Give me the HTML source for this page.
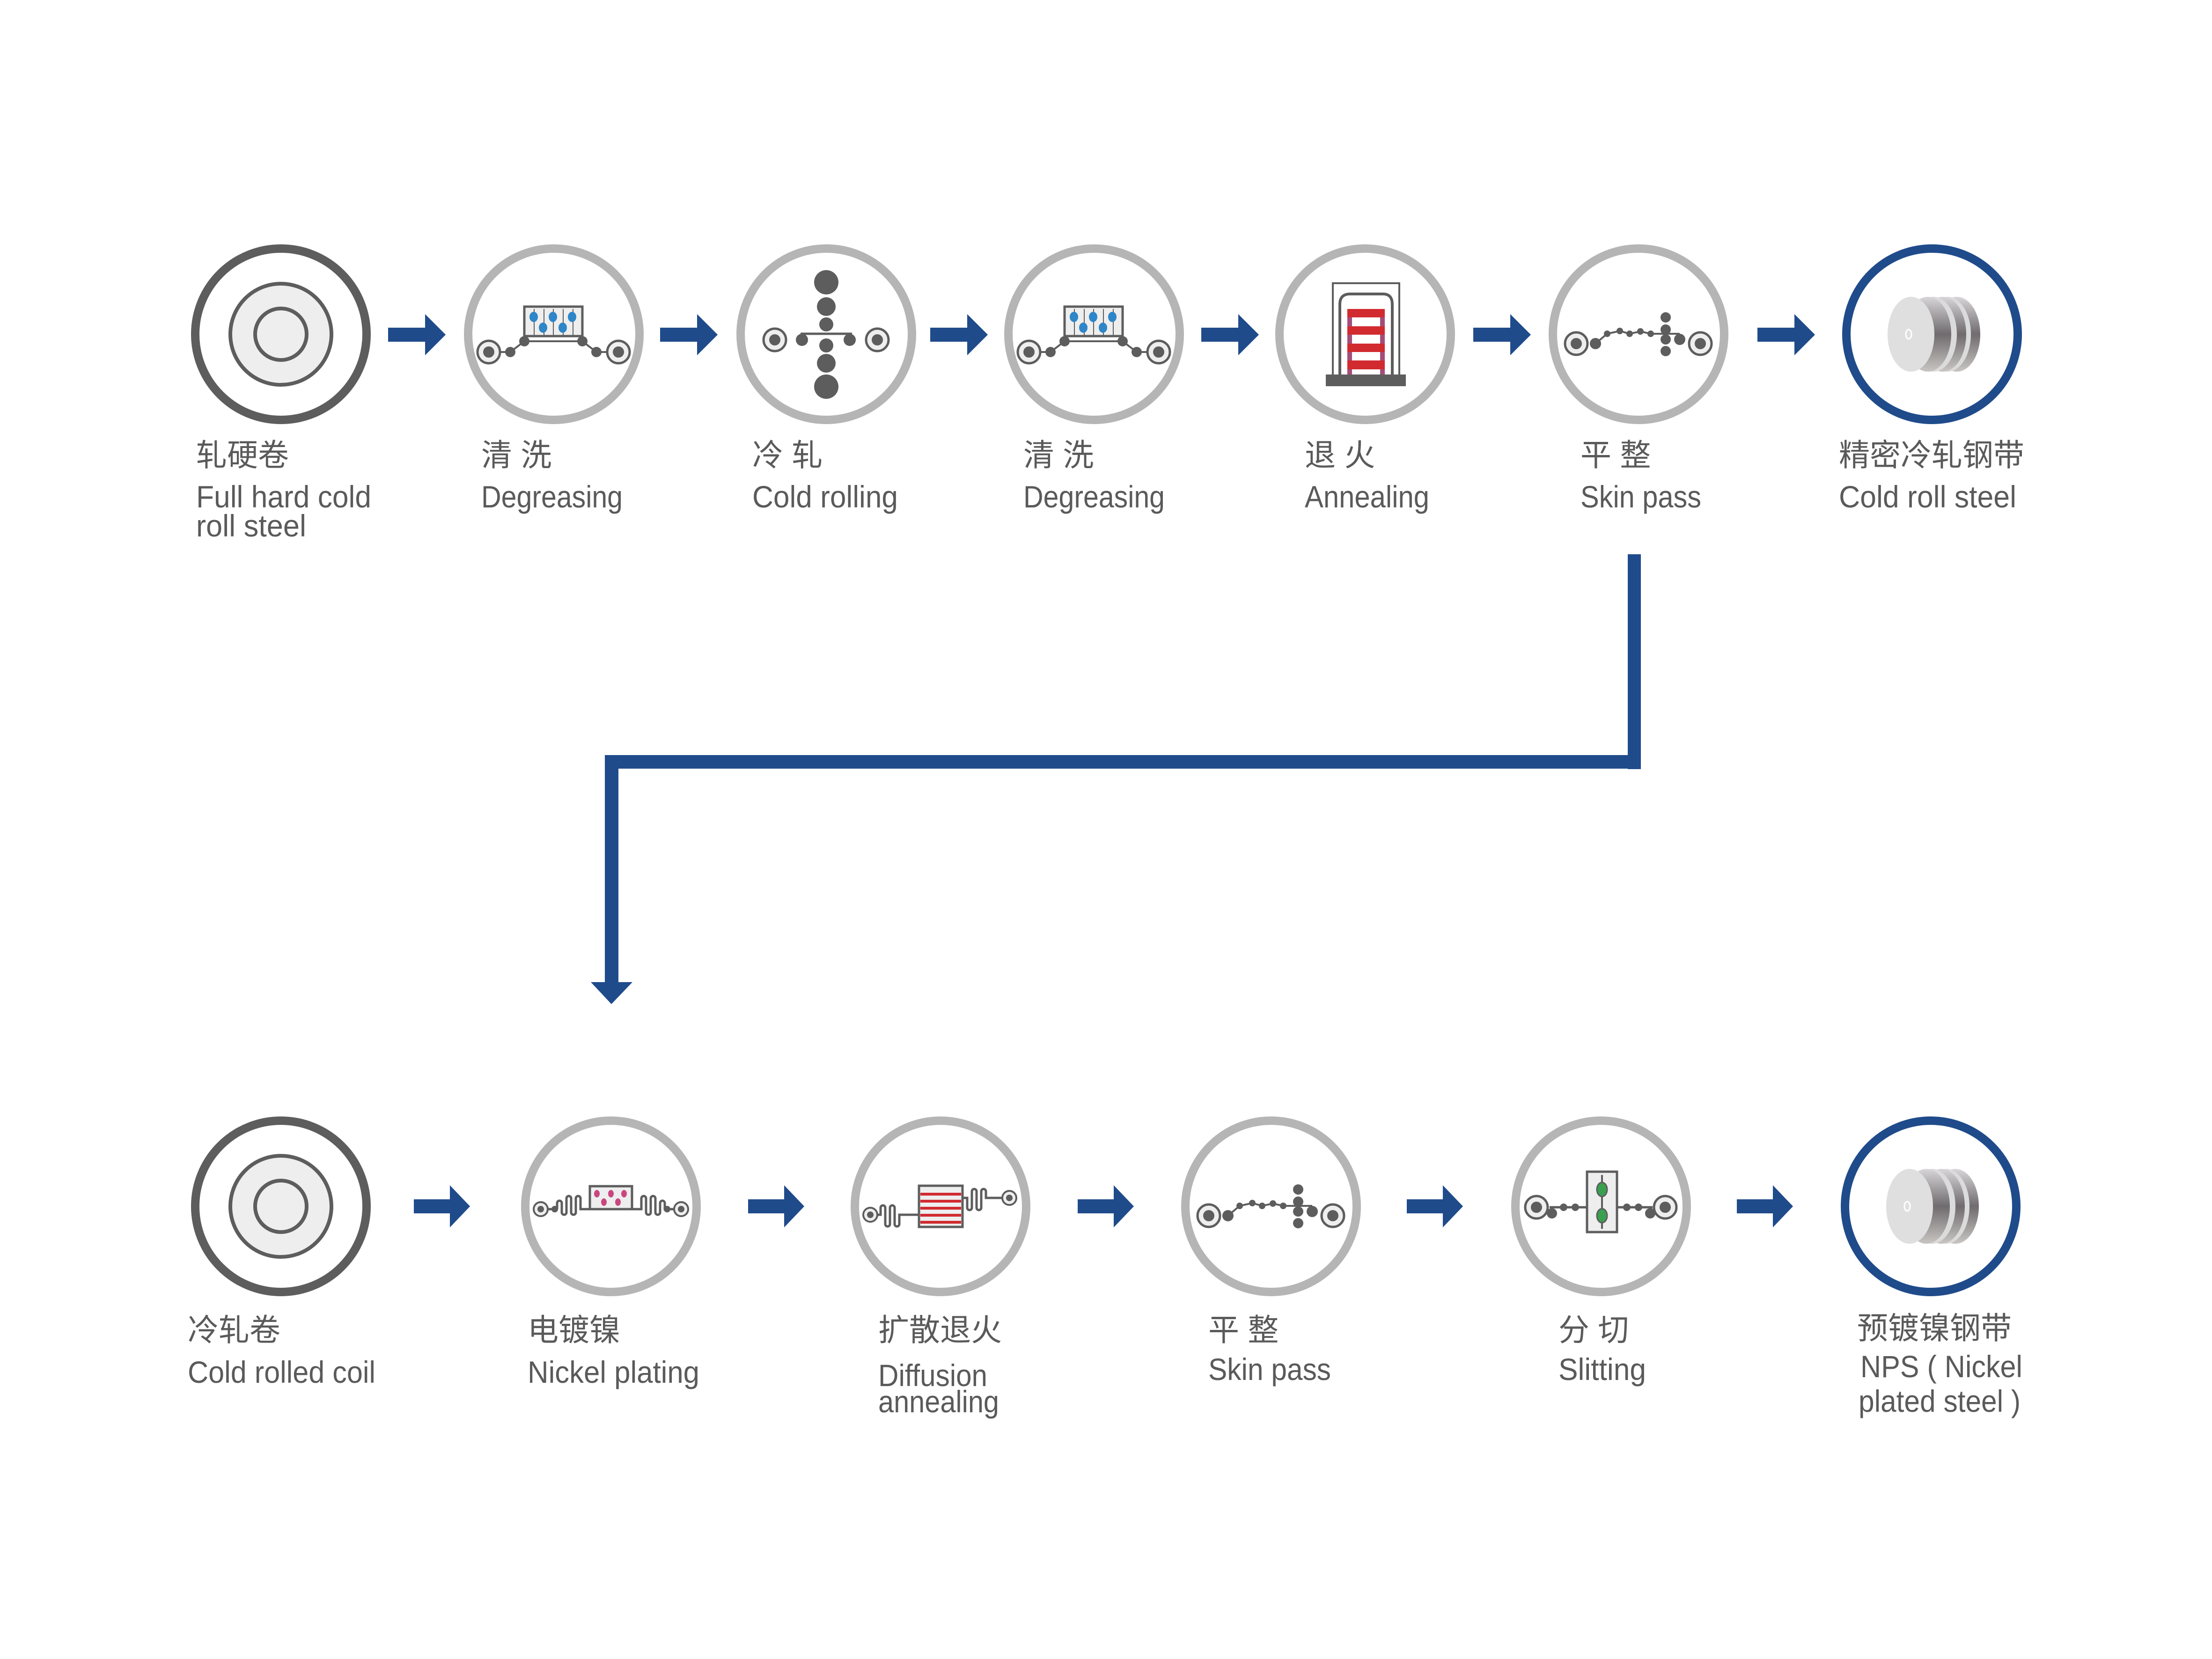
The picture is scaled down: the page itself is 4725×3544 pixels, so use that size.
<!DOCTYPE html>
<html><head><meta charset="utf-8"><style>
html,body{margin:0;padding:0;background:#fff}
svg{display:block}
.cn{font-family:"Liberation Sans","Noto Sans CJK SC",sans-serif;font-size:66px;fill:#5a5a5a}
.en{font-family:"Liberation Sans",sans-serif;font-size:66px;fill:#5a5a5a}
</style></head><body>
<svg width="4725" height="3544" viewBox="0 0 4725 3544" xmlns="http://www.w3.org/2000/svg">
<defs>
<linearGradient id="cg" x1="0" y1="0" x2="0" y2="1">
<stop offset="0" stop-color="#d8d6d8"/><stop offset="0.5" stop-color="#6f6b6e"/><stop offset="1" stop-color="#c9c5c2"/>
</linearGradient>
<g id="coil">
<ellipse cx="4180" cy="714" rx="50" ry="80" fill="url(#cg)"/>
<ellipse cx="4160" cy="714" rx="50" ry="80" fill="#dcdbdb"/>
<ellipse cx="4150" cy="714" rx="50" ry="80" fill="url(#cg)"/>
<ellipse cx="4130" cy="714" rx="50" ry="80" fill="#dcdbdb"/>
<ellipse cx="4118" cy="714" rx="50" ry="80" fill="url(#cg)"/>
<ellipse cx="4082" cy="714" rx="50" ry="80" fill="#e0dfdf"/>
<ellipse cx="4077" cy="714" rx="6" ry="10" fill="none" stroke="#fff" stroke-width="3"/>
</g>
<g id="rawcoil">
<circle cx="600" cy="714" r="183" fill="#fff" stroke="#5e5d5e" stroke-width="18"/>
<circle cx="600" cy="714" r="108" fill="#eeeeee" stroke="#5e5d5e" stroke-width="8"/>
<circle cx="600" cy="714" r="55" fill="#eeeeee" stroke="#5e5d5e" stroke-width="8"/>
</g>
<g id="roll"><circle r="24" fill="#eee" stroke="#5e5d5e" stroke-width="5"/><circle r="12" fill="#5e5d5e"/></g>
<g id="skin">
<polyline points="3408,734 3433,713 3460,707 3481,713 3504,708 3526,713 3588,713" fill="none" stroke="#5e5d5e" stroke-width="4"/>
<use href="#roll" x="3367" y="734"/><use href="#roll" x="3632" y="734"/>
<circle cx="3408" cy="734" r="12" fill="#5e5d5e"/>
<circle cx="3433" cy="713" r="7" fill="#5e5d5e"/><circle cx="3460" cy="707" r="7" fill="#5e5d5e"/>
<circle cx="3481" cy="713" r="7" fill="#5e5d5e"/><circle cx="3504" cy="708" r="7" fill="#5e5d5e"/>
<circle cx="3526" cy="713" r="7" fill="#5e5d5e"/>
<circle cx="3558" cy="678" r="11" fill="#5e5d5e"/><circle cx="3558" cy="704" r="11" fill="#5e5d5e"/>
<circle cx="3558" cy="725" r="11" fill="#5e5d5e"/><circle cx="3558" cy="750" r="11" fill="#5e5d5e"/>
<circle cx="3588" cy="725" r="12" fill="#5e5d5e"/>
</g>
<g id="degr">
<rect x="1120" y="655" width="124" height="63" fill="#eee" stroke="#5e5d5e" stroke-width="5"/>
<g stroke="#5e5d5e" stroke-width="2"><line x1="1141" y1="660" x2="1141" y2="716"/><line x1="1162" y1="660" x2="1162" y2="716"/><line x1="1182" y1="660" x2="1182" y2="716"/><line x1="1203" y1="660" x2="1203" y2="716"/><line x1="1224" y1="660" x2="1224" y2="716"/></g>
<g fill="#2e86c8"><ellipse cx="1140" cy="677" rx="9" ry="11"/><ellipse cx="1181" cy="677" rx="9" ry="11"/><ellipse cx="1222" cy="677" rx="9" ry="11"/><ellipse cx="1160" cy="700" rx="9" ry="11"/><ellipse cx="1202" cy="700" rx="9" ry="11"/></g>
<polyline points="1044,752 1090,752 1120,729 1244,729 1274,752 1321,752" fill="none" stroke="#5e5d5e" stroke-width="4"/>
<use href="#roll" x="1044" y="752"/><use href="#roll" x="1321" y="752"/>
<circle cx="1090" cy="752" r="11" fill="#5e5d5e"/><circle cx="1120" cy="729" r="11" fill="#5e5d5e"/>
<circle cx="1244" cy="729" r="11" fill="#5e5d5e"/><circle cx="1274" cy="752" r="11" fill="#5e5d5e"/>
</g>
</defs>

<!-- TOP ROW circles -->
<use href="#rawcoil"/>
<g fill="#fff" stroke="#b5b5b5" stroke-width="18">
<circle cx="1183" cy="714" r="183"/><circle cx="1765" cy="714" r="183"/><circle cx="2337" cy="714" r="183"/>
<circle cx="2916" cy="714" r="183"/><circle cx="3500" cy="714" r="183"/>
</g>
<circle cx="4127" cy="714" r="183" fill="#fff" stroke="#1f4b8b" stroke-width="18"/>

<use href="#degr"/>
<use href="#degr" x="1154"/>
<!-- cold rolling -->
<line x1="1710" y1="713" x2="1820" y2="713" stroke="#5e5d5e" stroke-width="5"/>
<use href="#roll" x="1655" y="726"/><use href="#roll" x="1874" y="726"/>
<g fill="#5e5d5e">
<circle cx="1713" cy="726" r="13"/><circle cx="1815" cy="726" r="13"/>
<circle cx="1765" cy="603" r="26"/><circle cx="1765" cy="655" r="20"/><circle cx="1765" cy="693" r="15"/>
<circle cx="1765" cy="738" r="15"/><circle cx="1765" cy="776" r="20"/><circle cx="1765" cy="826" r="26"/>
</g>
<!-- annealing -->
<rect x="2847" y="605" width="142" height="200" fill="none" stroke="#5e5d5e" stroke-width="4"/>
<path d="M2862,805 V650 Q2862,628 2884,628 H2954 Q2974,628 2974,650 V805" fill="none" stroke="#5e5d5e" stroke-width="6"/>
<rect x="2878" y="660" width="80" height="140" fill="#a44d7a"/>
<g fill="#fff"><rect x="2888" y="678" width="60" height="19"/><rect x="2888" y="715" width="60" height="19"/><rect x="2888" y="752" width="60" height="18"/><rect x="2888" y="789" width="60" height="11"/></g>
<g fill="#d12b30"><rect x="2878" y="660" width="80" height="18"/><rect x="2878" y="697" width="80" height="18"/><rect x="2878" y="734" width="80" height="18"/><rect x="2878" y="770" width="80" height="19"/></g>
<rect x="2832" y="800" width="171" height="25" fill="#5e5d5e"/>
<use href="#skin"/>
<use href="#coil"/>

<!-- top arrows -->
<g fill="#1f4b8b">
<path d="M829,700h79v-29l44,44l-44,44v-29h-79z"/>
<path d="M1410,700h79v-29l44,44l-44,44v-29h-79z"/>
<path d="M1987,700h79v-29l44,44l-44,44v-29h-79z"/>
<path d="M2566,700h79v-29l44,44l-44,44v-29h-79z"/>
<path d="M3147,700h79v-29l44,44l-44,44v-29h-79z"/>
<path d="M3754,700h79v-29l44,44l-44,44v-29h-79z"/>
</g>

<!-- top labels -->
<text class="cn" x="419" y="995">轧硬卷</text>
<text class="en" x="419" y="1084" textLength="374" lengthAdjust="spacingAndGlyphs">Full hard cold</text>
<text class="en" x="419" y="1146" textLength="235" lengthAdjust="spacingAndGlyphs">roll steel</text>
<text class="cn" x="1028" y="995">清 洗</text>
<text class="en" x="1028" y="1084" textLength="302" lengthAdjust="spacingAndGlyphs">Degreasing</text>
<text class="cn" x="1607" y="995">冷 轧</text>
<text class="en" x="1607" y="1084" textLength="311" lengthAdjust="spacingAndGlyphs">Cold rolling</text>
<text class="cn" x="2186" y="995">清 洗</text>
<text class="en" x="2186" y="1084" textLength="302" lengthAdjust="spacingAndGlyphs">Degreasing</text>
<text class="cn" x="2787" y="995">退 火</text>
<text class="en" x="2787" y="1084" textLength="266" lengthAdjust="spacingAndGlyphs">Annealing</text>
<text class="cn" x="3376" y="995">平 整</text>
<text class="en" x="3376" y="1084" textLength="258" lengthAdjust="spacingAndGlyphs">Skin pass</text>
<text class="cn" x="3928" y="995">精密冷轧钢带</text>
<text class="en" x="3928" y="1084" textLength="379" lengthAdjust="spacingAndGlyphs">Cold roll steel</text>

<!-- connector -->
<g fill="#1f4b8b">
<rect x="3477" y="1184" width="28" height="459"/>
<rect x="1292" y="1613" width="2213" height="29"/>
<rect x="1292" y="1613" width="29" height="486"/>
<polygon points="1262,2098 1351,2098 1306,2145"/>
</g>

<!-- BOTTOM ROW -->
<use href="#rawcoil" y="1863"/>
<g fill="#fff" stroke="#b5b5b5" stroke-width="18">
<circle cx="1305" cy="2577" r="183"/><circle cx="2009" cy="2577" r="183"/><circle cx="2715" cy="2577" r="183"/><circle cx="3420" cy="2577" r="183"/>
</g>
<circle cx="4124" cy="2577" r="183" fill="#fff" stroke="#1f4b8b" stroke-width="18"/>

<!-- nickel plating -->
<g fill="none" stroke="#5e5d5e" stroke-width="5">
<path d="M1155,2583 H1180 M1190,2583 V2570 a5,5 0 0 1 10,0 V2590 a5,5 0 0 0 10,0 V2560 a5,5 0 0 1 10,0 V2590 a5,5 0 0 0 10,0 V2560 a5,5 0 0 1 10,0 V2583 H1370 V2560 a5,5 0 0 1 10,0 V2590 a5,5 0 0 0 10,0 V2560 a5,5 0 0 1 10,0 V2590 a5,5 0 0 0 10,0 V2570 a5,5 0 0 1 10,0 V2583 H1455"/>
</g>
<rect x="1260" y="2534" width="90" height="49" fill="#eee" stroke="#5e5d5e" stroke-width="5"/>
<g fill="#c9467f"><ellipse cx="1275" cy="2550" rx="6" ry="8"/><ellipse cx="1305" cy="2550" rx="6" ry="8"/><ellipse cx="1333" cy="2550" rx="6" ry="8"/><ellipse cx="1290" cy="2568" rx="6" ry="8"/><ellipse cx="1320" cy="2568" rx="6" ry="8"/></g>
<g transform="translate(1155,2583)"><circle r="15" fill="#eee" stroke="#5e5d5e" stroke-width="4"/><circle r="7" fill="#5e5d5e"/></g>
<g transform="translate(1455,2583)"><circle r="15" fill="#eee" stroke="#5e5d5e" stroke-width="4"/><circle r="7" fill="#5e5d5e"/></g>
<circle cx="1185" cy="2583" r="7" fill="#5e5d5e"/><circle cx="1425" cy="2583" r="7" fill="#5e5d5e"/>

<!-- diffusion annealing -->
<g transform="translate(-4,0)">
<path d="M1863,2595 H1885 V2580 a5,5 0 0 1 10,0 V2615 a5,5 0 0 0 10,0 V2580 a5,5 0 0 1 10,0 V2615 a5,5 0 0 0 10,0 V2595 H1967 M2060,2559 H2070 V2580 a5,5 0 0 0 10,0 V2545 a5,5 0 0 1 10,0 V2580 a5,5 0 0 0 10,0 V2545 a5,5 0 0 1 10,0 V2559 H2160" fill="none" stroke="#5e5d5e" stroke-width="5"/>
<rect x="1967" y="2533" width="93" height="88" fill="#eee" stroke="#5e5d5e" stroke-width="5"/>
<g fill="#d12b30"><rect x="1970" y="2548" width="87" height="6"/><rect x="1970" y="2563" width="87" height="6"/><rect x="1970" y="2578" width="87" height="6"/><rect x="1970" y="2593" width="87" height="6"/><rect x="1970" y="2608" width="87" height="6"/></g>
<g transform="translate(1863,2595)"><circle r="15" fill="#eee" stroke="#5e5d5e" stroke-width="4"/><circle r="7" fill="#5e5d5e"/></g>
<g transform="translate(2160,2559)"><circle r="15" fill="#eee" stroke="#5e5d5e" stroke-width="4"/><circle r="7" fill="#5e5d5e"/></g>
</g>

<use href="#skin" x="-785" y="1863"/>

<!-- slitting -->
<g transform="translate(-10,0)">
<line x1="3320" y1="2579" x2="3540" y2="2579" stroke="#5e5d5e" stroke-width="5"/>
<rect x="3400" y="2503" width="64" height="129" fill="#eee" stroke="#5e5d5e" stroke-width="5"/>
<line x1="3432" y1="2510" x2="3432" y2="2625" stroke="#5e5d5e" stroke-width="4"/>
<ellipse cx="3432" cy="2541" rx="11" ry="15" fill="#3aa050" stroke="#5e5d5e" stroke-width="3"/>
<ellipse cx="3432" cy="2597" rx="11" ry="15" fill="#3aa050" stroke="#5e5d5e" stroke-width="3"/>
<use href="#roll" x="3292" y="2579"/><use href="#roll" x="3567" y="2579"/>
<g fill="#5e5d5e"><circle cx="3325" cy="2592" r="11"/><circle cx="3350" cy="2579" r="8"/><circle cx="3375" cy="2579" r="8"/><circle cx="3485" cy="2579" r="8"/><circle cx="3510" cy="2579" r="8"/><circle cx="3535" cy="2592" r="11"/></g>
</g>

<use href="#coil" x="-3" y="1863"/>

<!-- bottom arrows -->
<g fill="#1f4b8b">
<path d="M884,2562h77v-30l43,45l-43,45v-30h-77z"/>
<path d="M1598,2562h77v-30l43,45l-43,45v-30h-77z"/>
<path d="M2302,2562h77v-30l43,45l-43,45v-30h-77z"/>
<path d="M3005,2562h77v-30l43,45l-43,45v-30h-77z"/>
<path d="M3710,2562h77v-30l43,45l-43,45v-30h-77z"/>
</g>

<!-- bottom labels -->
<text class="cn" x="401" y="2864">冷轧卷</text>
<text class="en" x="401" y="2954" textLength="401" lengthAdjust="spacingAndGlyphs">Cold rolled coil</text>
<text class="cn" x="1127" y="2864">电镀镍</text>
<text class="en" x="1127" y="2954" textLength="367" lengthAdjust="spacingAndGlyphs">Nickel plating</text>
<text class="cn" x="1876" y="2864">扩散退火</text>
<text class="en" x="1876" y="2961" textLength="233" lengthAdjust="spacingAndGlyphs">Diffusion</text>
<text class="en" x="1876" y="3017" textLength="258" lengthAdjust="spacingAndGlyphs">annealing</text>
<text class="cn" x="2581" y="2864">平 整</text>
<text class="en" x="2581" y="2948" textLength="262" lengthAdjust="spacingAndGlyphs">Skin pass</text>
<text class="cn" x="3329" y="2864">分 切</text>
<text class="en" x="3329" y="2948" textLength="187" lengthAdjust="spacingAndGlyphs">Slitting</text>
<text class="cn" x="3967" y="2860">预镀镍钢带</text>
<text class="en" x="3974" y="2942" textLength="346" lengthAdjust="spacingAndGlyphs">NPS ( Nickel</text>
<text class="en" x="3970" y="3016" textLength="346" lengthAdjust="spacingAndGlyphs">plated steel )</text>
</svg>
</body></html>
